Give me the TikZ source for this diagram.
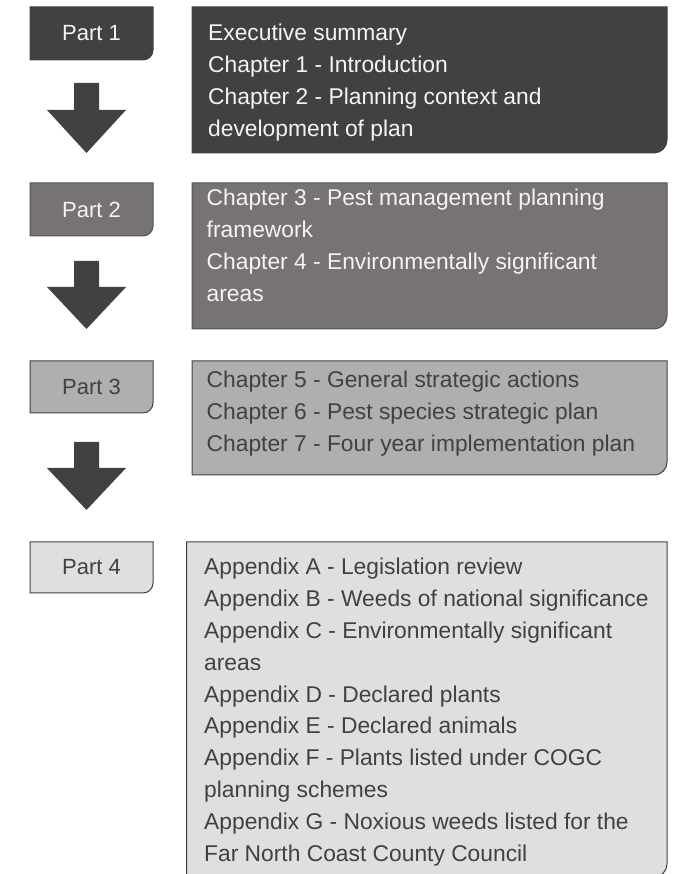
\documentclass[tikz,border=0pt]{standalone}
\usepackage{fontspec}
\setmainfont{Liberation Sans}
\definecolor{cA}{HTML}{414042}
\definecolor{cB}{HTML}{777274}
\definecolor{cC}{HTML}{B1AEAF}
\definecolor{cD}{HTML}{E0DFE0}
\definecolor{lighttext}{HTML}{F4F4F4}
\newcommand\brbox[6]{%
  \filldraw[#6] (#1,#2) -- (#3,#2) -- (#3,{#4+#5})
    arc[start angle=0,end angle=-90,radius=#5] -- (#1,#4) -- cycle;}
\newcommand\blockarrow[4]{% x center, top, head base, tip
  \fill[cA] ({#1-12.5},#2) -- ({#1+12.5},#2) -- ({#1+12.5},#3) -- ({#1+39.5},#3)
    -- (#1,#4) -- ({#1-39.5},#3) -- ({#1-12.5},#3) -- cycle;}
\newcommand\listlines[1]{\parbox[t]{470pt}{\raggedright #1}}
\tikzset{
  parttext/.style={font=\fontsize{22}{26}\selectfont, inner sep=0pt, anchor=center},
  listtext/.style={font=\fontsize{22.8}{31.8}\selectfont, inner sep=0pt, anchor=base west},
  frameA/.style={fill=cA, draw=cA, line width=1pt},
  frameB/.style={fill=cB, draw=cA!90, line width=1pt},
  frameC/.style={fill=cC, draw=cA, line width=1pt},
  frameD/.style={fill=cD, draw=cA, line width=1pt},
}
\begin{document}
\begin{tikzpicture}[x=1pt,y=1pt]
\useasboundingbox (0,0) rectangle (687,874);
\begin{scope}
\clip (0,0) rectangle (687,874);
% boxes
\brbox{30}{867}{153}{814}{10}{frameA}
\brbox{192}{867}{667}{721}{13}{frameA}
\brbox{30}{691}{153}{638}{10}{frameB}
\brbox{192}{691}{667}{545}{13}{frameB}
\brbox{30}{513}{153}{461}{10}{frameC}
\brbox{192}{513}{667}{399}{13}{frameC}
\brbox{30}{332}{153}{281}{10}{frameD}
\brbox{186.5}{332}{667}{-3}{13}{frameD}
\end{scope}
% arrows
\blockarrow{86.5}{791}{764}{721}
\blockarrow{86.5}{613}{587}{545}
\blockarrow{86.5}{432}{406}{364}
% part labels
\node[parttext, text=lighttext] (part1) at (91.5,840.5) {Part 1};
\node[parttext, text=lighttext] (part2) at (91.5,664.5) {Part 2};
\node[parttext, text=cA] (part3) at (91.5,487) {Part 3};
\node[parttext, text=cA] (part4) at (91.5,306.5) {Part 4};
% contents
\node[listtext, text=lighttext] (list1) at (208,833) {\listlines{Executive summary\\Chapter 1 - Introduction\\Chapter 2 - Planning context and\\development of plan}};
\node[listtext, text=lighttext] (list2) at (206.5,668) {\listlines{Chapter 3 - Pest management planning\\framework\\Chapter 4 - Environmentally significant\\areas}};
\node[listtext, text=cA] (list3) at (206.5,486) {\listlines{Chapter 5 - General strategic actions\\Chapter 6 - Pest species strategic plan\\Chapter 7 - Four year implementation plan}};
\node[listtext, text=cA] (list4) at (204,299) {\listlines{Appendix A - Legislation review\\Appendix B - Weeds of national significance\\Appendix C - Environmentally significant\\areas\\Appendix D - Declared plants\\Appendix E - Declared animals\\Appendix F - Plants listed under COGC\\planning schemes\\Appendix G - Noxious weeds listed for the\\Far North Coast County Council}};
\end{tikzpicture}
\end{document}
